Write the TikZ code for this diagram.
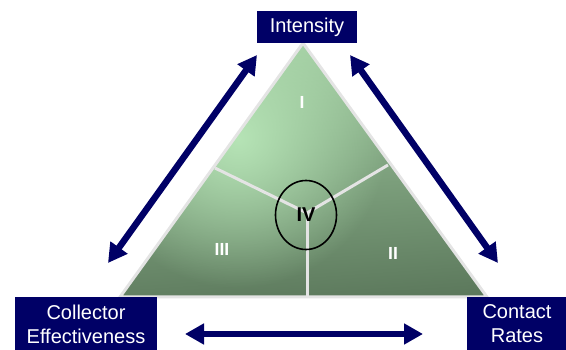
\documentclass[tikz,border=0pt]{standalone}
\usepackage{fontspec}
\setmainfont{Liberation Sans}
\usetikzlibrary{arrows.meta,fadings}
\definecolor{navy}{HTML}{000066}
\definecolor{pale}{HTML}{B6E4B6}
\definecolor{lightgreen}{HTML}{A6D2A6}
\definecolor{deep}{HTML}{5A765A}
\definecolor{rim}{HTML}{E4E4E4}
\tikzfading[name=glow,inner color=transparent!0,outer color=transparent!100]

\begin{document}
\begin{tikzpicture}[x=1pt,y=-1pt,
  label box/.style={fill=navy,text=white,inner sep=0pt,align=center,font=\fontsize{20}{24}\selectfont},
  link/.style={navy,line width=6.5pt,{Triangle[length=19pt,width=20pt]}-{Triangle[length=19pt,width=20pt]}},
  part/.style={white,font=\bfseries\fontsize{17.5}{18}\selectfont}]
\useasboundingbox (0,0) rectangle (566,350);
% corners of the triangle
\coordinate (top) at (303,43);
\coordinate (bl) at (120,297);
\coordinate (br) at (487,297);
\coordinate (mid) at (307,213);
\begin{scope}
\clip (top) -- (br) -- (bl) -- cycle;
\shade[top color=lightgreen,bottom color=deep,shading angle=4] (100,30) rectangle (500,310);
\fill[pale,path fading=glow] (238,138) circle (150);
\end{scope}
\draw[rim,line width=3pt,line join=miter] (top) -- (br) -- (bl) -- cycle;
\draw[rim,line width=3pt] (215,168) -- (mid) -- (388,165);
\draw[rim,line width=3pt] (mid) -- (307,297);
\node[part] (one) at (302,102) {I};
\node[part] (two) at (393,253) {II};
\node[part] (three) at (222,249) {III};
\node[font=\bfseries\fontsize{20}{20}\selectfont] (four) at (306,215) {IV};
\draw[line width=1.6pt] (four) ellipse (30.5 and 34.5);
% boxes
\node[label box,minimum width=100pt,minimum height=32pt] (inten) at (307,27) {Intensity};
\node[label box,minimum width=142pt,minimum height=54pt] (coll) at (86,324) {Collector\\Effectiveness};
\node[label box,minimum width=100pt,minimum height=54pt] (cont) at (517,324) {Contact\\Rates};
% arrows
\coordinate (a1) at (108,263);
\coordinate (a2) at (257,55);
\coordinate (b1) at (350,55);
\coordinate (b2) at (498,263);
\coordinate (c1) at (185,334);
\coordinate (c2) at (423,334);
\draw[link] (a1) -- (a2);
\draw[link] (b1) -- (b2);
\draw[link] (c1) -- (c2);
\end{tikzpicture}
\end{document}
